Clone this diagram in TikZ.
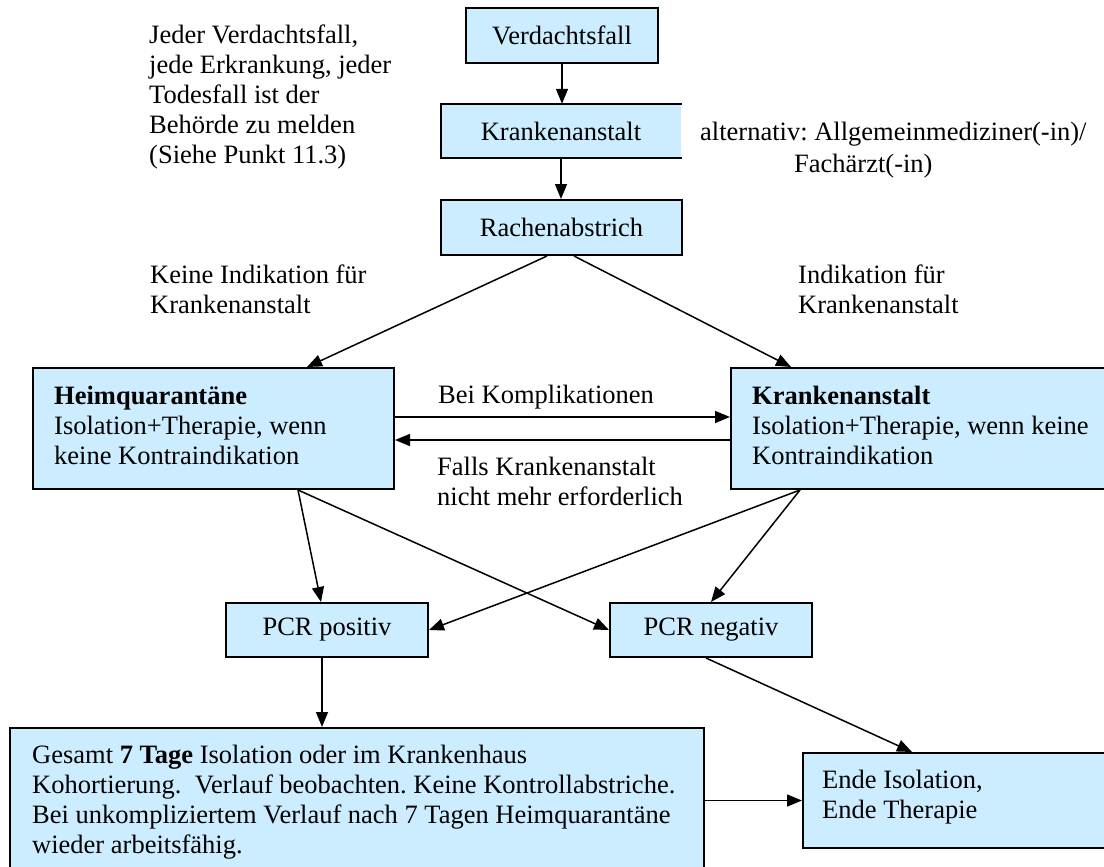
\documentclass[tikz,border=0pt]{standalone}
\usepackage{fontspec}
\setmainfont{Liberation Serif}
\usetikzlibrary{arrows.meta}
\definecolor{boxblue}{HTML}{CCECFF}
\frenchspacing
\begin{document}
\begin{tikzpicture}[x=1pt,y=-1pt,
  every node/.style={font=\fontsize{26.5pt}{30pt}\selectfont\frenchspacing, inner sep=0pt},
  box/.style={draw=black, line width=2pt, fill=boxblue},
  txt/.style={anchor=north west, align=left},
  arr/.style={line width=1.5pt, -{Triangle[length=15pt,width=12pt]}}]
\useasboundingbox (0,0) rectangle (1104,867);
\clip (0,0) rectangle (1104,867);
% boxes
\node[box, minimum width=192pt, minimum height=55pt] (verd) at (562,35.5) {Verdachtsfall};
\node[fill=boxblue, minimum width=240pt, minimum height=54pt] (kra) at (561,131) {Krankenanstalt};
\draw[line width=2pt, line cap=rect] (kra.north east) -- (kra.north west) -- (kra.south west) -- (kra.south east);
\node[box, minimum width=241pt, minimum height=55pt] (rach) at (561.5,227.5) {Rachenabstrich};
\node[box, minimum width=361pt, minimum height=121pt] (heim) at (213.5,428.5) {};
\node[box, minimum width=379pt, minimum height=121pt] (ka) at (920.5,428.5) {};
\node[box, minimum width=202pt, minimum height=54pt] (pos) at (327,630) {PCR positiv};
\node[box, minimum width=202pt, minimum height=54pt] (neg) at (711,630) {PCR negativ};
\node[box, minimum width=694pt, minimum height=152pt] (ges) at (357,804) {};
\node[box, minimum width=307pt, minimum height=95pt] (ende) at (956.5,800.5) {};
% texts
\node[txt] (note) at (149,25) {Jeder Verdachtsfall,\\jede Erkrankung, jeder\\Todesfall ist der\\Behörde zu melden\\(Siehe Punkt 11.3)};
\node[anchor=base west] (alt1) at (700,140) {alternativ: Allgemeinmediziner(-in)/};
\node[anchor=base west] (alt2) at (794,172) {Fachärzt(-in)};
\node[txt] (noind) at (150,265) {Keine Indikation für\\Krankenanstalt};
\node[txt] (ind) at (798,265) {Indikation für\\Krankenanstalt};
\node[txt] (heimtxt) at (54,385.5) {\textbf{Heimquarantäne}\\Isolation+Therapie, wenn\\keine Kontraindikation};
\node[txt] (katxt) at (752,385.5) {\textbf{Krankenanstalt}\\Isolation+Therapie, wenn keine\\Kontraindikation};
\node[anchor=base west] (bk) at (438,403) {Bei Komplikationen};
\node[txt] (falls) at (437,457) {Falls Krankenanstalt\\nicht mehr erforderlich};
\node[txt] (gestxt) at (32,745) {Gesamt \textbf{7 Tage} Isolation oder im Krankenhaus\\Kohortierung.\ \ Verlauf beobachten. Keine Kontrollabstriche.\\Bei unkompliziertem Verlauf nach 7 Tagen Heimquarantäne\\wieder arbeitsfähig.};
\node[txt] (endetxt) at (822,770) {Ende Isolation,\\Ende Therapie};
% connectors
\draw[arr] (verd.south) -- (verd.south |- kra.north);
\draw[arr] (kra.south) -- (kra.south |- rach.north);
\draw[arr] ([xshift=-14.5pt]rach.south) -- ([xshift=93.5pt]heim.north);
\draw[arr] ([xshift=12.5pt]rach.south) -- ([xshift=-129.5pt]ka.north);
\draw[arr] ([yshift=11.5pt]heim.east) -- ([yshift=11.5pt]ka.west);
\draw[arr] ([yshift=-11.5pt]ka.west) -- ([yshift=-11.5pt]heim.east);
\draw[arr] ([xshift=84.5pt]heim.south) -- ([xshift=-6pt]pos.north);
\draw[arr] ([xshift=84.5pt]heim.south) -- (neg.west);
\draw[arr] ([xshift=-120.5pt]ka.south) -- (pos.east);
\draw[arr] ([xshift=-120.5pt]ka.south) -- (neg.north);
\draw[arr] ([xshift=-5pt]pos.south) -- ([xshift=-5pt]pos.south |- ges.north);
\draw[arr] ([xshift=-5pt]neg.south) -- ([xshift=-44.5pt]ende.north);
\draw[arr] (ges.east |- ende.west) -- (ende.west);
\end{tikzpicture}
\end{document}
